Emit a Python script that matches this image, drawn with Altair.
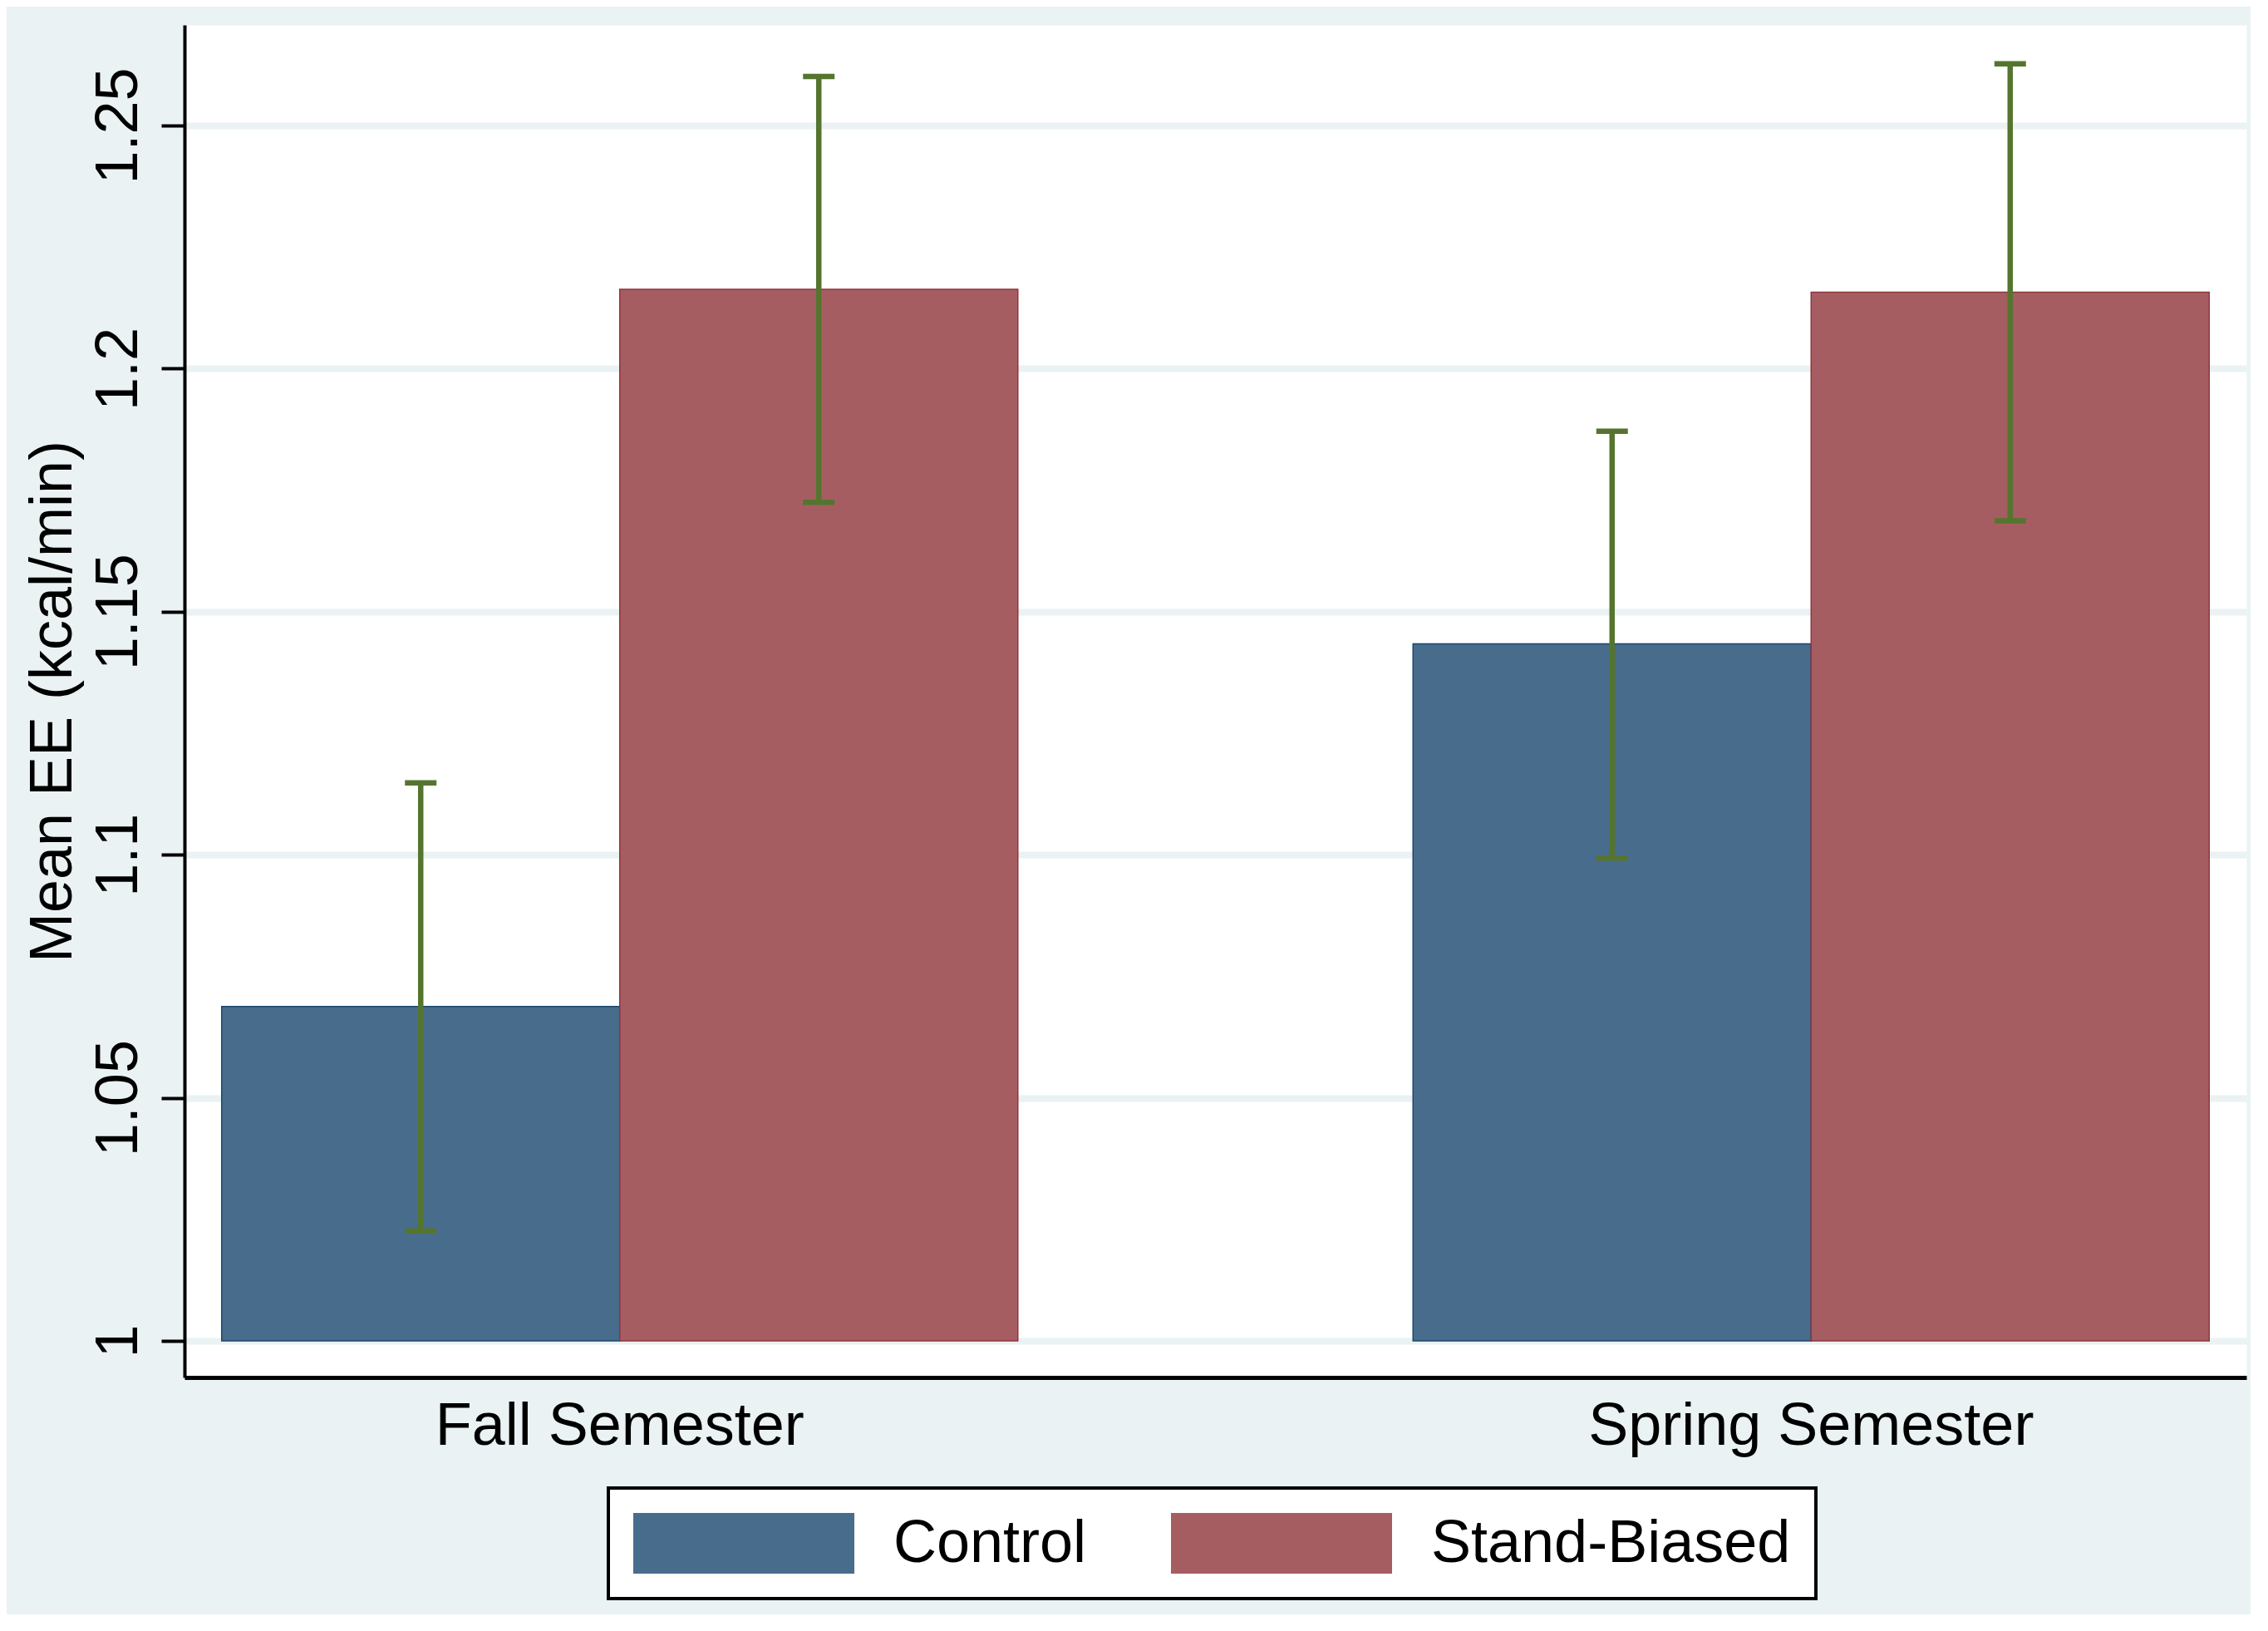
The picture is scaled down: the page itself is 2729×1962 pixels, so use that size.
import altair as alt
import pandas as pd

# ---- data ----
semesters = ["Fall Semester", "Spring Semester"]
groups = ["Control", "Stand-Biased"]
fall_means = [1.0688, 1.2163]
spring_means = [1.1434, 1.2157]
fall_lo = [1.0226, 1.1725]
fall_hi = [1.1148, 1.2601]
spring_lo = [1.0993, 1.1687]
spring_hi = [1.1871, 1.2627]
y_ticks = [1.0, 1.05, 1.1, 1.15, 1.2, 1.25]

rows = []
for sem, means, los, his in [
    (semesters[0], fall_means, fall_lo, fall_hi),
    (semesters[1], spring_means, spring_lo, spring_hi),
]:
    for g, m, lo, hi in zip(groups, means, los, his):
        rows.append(dict(semester=sem, group=g, mean=m, lo=lo, hi=hi))
df = pd.DataFrame(rows)

fills = ["#486C8C", "#A65D62"]
strokes = ["#1A476F", "#90353B"]
err_color = "#55752F"
bg = "#EAF2F3"
FS = 72

W, H = 2481, 1627

xenc = alt.X(
    "semester:N",
    sort=semesters,
    scale=alt.Scale(paddingInner=0.3317, paddingOuter=0.0312),
    axis=alt.Axis(
        title=None, labelAngle=0, ticks=False, tickSize=0, labelPadding=80,
        labelBaseline="alphabetic", labelFontSize=FS, domainColor="black",
        domainWidth=5, grid=False, labelColor="black", labelLimit=0,
    ),
)
xoff = alt.XOffset("group:N", sort=groups, scale=alt.Scale(paddingInner=0, paddingOuter=0))
yscale = alt.Scale(domain=[0.99248, 1.27069], zero=False, nice=False)
yaxis = alt.Axis(
    title="Mean EE (kcal/min)", values=y_ticks, format="~g",
    labelAngle=270, labelAlign="center", labelBaseline="alphabetic",
    labelPadding=30, tickSize=28, tickWidth=4, tickColor="black",
    domainColor="black", domainWidth=4, grid=True, gridColor=bg, gridWidth=8,
    labelFontSize=FS, titleFontSize=FS, titleFontWeight="normal",
    titleAngle=270, titleAlign="center", titleBaseline="alphabetic",
    titleX=-137, titleY=H / 2, labelColor="black", titleColor="black",
    labelLimit=0, titleLimit=0,
)

base = alt.Chart(df)

bars = base.mark_bar(strokeWidth=1.5, opacity=1).encode(
    x=xenc,
    xOffset=xoff,
    y=alt.Y("mean:Q", scale=yscale, axis=yaxis),
    y2=alt.datum(1.0),
    fill=alt.Fill(
        "group:N",
        scale=alt.Scale(domain=groups, range=fills),
        legend=alt.Legend(
            title=None, orient="none", legendX=510, legendY=1760,
            direction="horizontal",
            symbolType="M-1,-0.2744L1,-0.2744L1,0.2744L-1,0.2744Z",
            symbolSize=70756, symbolStrokeWidth=0, clipHeight=73,
            labelFontSize=FS, labelOffset=47, columnPadding=101, padding=30,
            strokeColor="black", fillColor="white", labelColor="black",
            symbolOpacity=1, labelLimit=0,
        ),
    ),
    stroke=alt.Stroke("group:N", scale=alt.Scale(domain=groups, range=strokes), legend=None),
)

errs = base.mark_rule(color=err_color, strokeWidth=6.5, opacity=1).encode(
    x=xenc, xOffset=xoff,
    y=alt.Y("lo:Q", scale=yscale, axis=yaxis),
    y2="hi:Q",
)
cap_hi = base.mark_tick(color=err_color, thickness=6.5, size=38, opacity=1).encode(
    x=xenc, xOffset=xoff, y=alt.Y("hi:Q", scale=yscale, axis=yaxis)
)
cap_lo = base.mark_tick(color=err_color, thickness=6.5, size=38, opacity=1).encode(
    x=xenc, xOffset=xoff, y=alt.Y("lo:Q", scale=yscale, axis=yaxis)
)

chart = (
    alt.layer(bars, errs, cap_hi, cap_lo)
    .properties(
        width=W, height=H,
        autosize=alt.AutoSizeParams(type="none"),
        padding={"left": 214, "top": 22, "right": 5, "bottom": 285},
        background=bg,
    )
    .configure(font="Liberation Sans")
    .configure_view(fill="white", stroke="transparent")
    .configure_legend(strokeWidth=4)
)

chart.save("out.html", embed_options={"renderer": "svg", "actions": False})
